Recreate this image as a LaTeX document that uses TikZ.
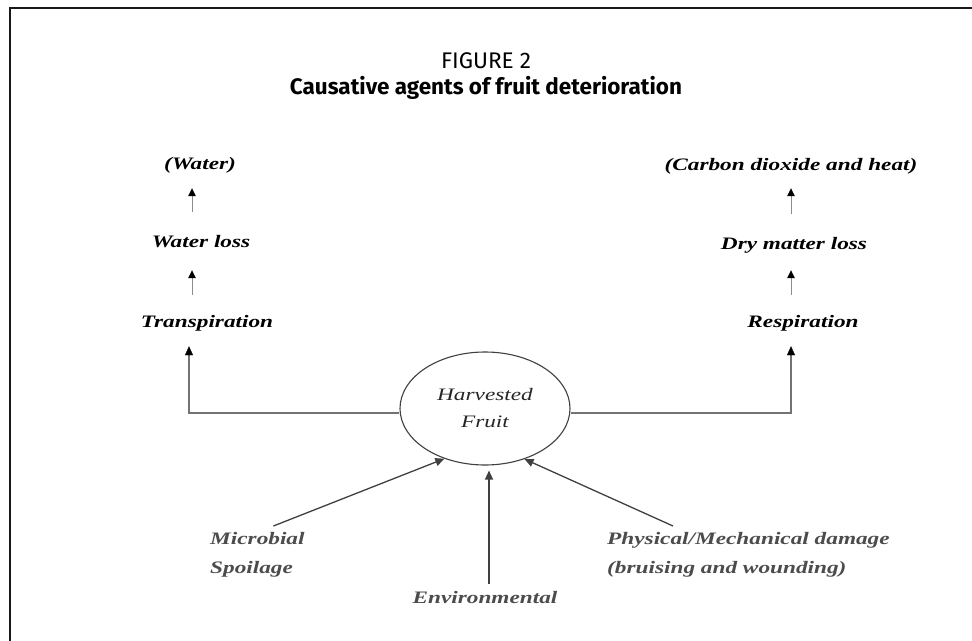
\documentclass[tikz,border=0pt]{standalone}
\usepackage{fontspec}
\setmainfont{Liberation Serif}
\newfontfamily\dfont[FakeStretch=1.33]{Liberation Serif}
\newfontfamily\tfont{Fira Sans}
\usetikzlibrary{shapes.geometric,arrows.meta}
\begin{document}
\begin{tikzpicture}[x=1pt,y=-1pt,
  lbl/.style={inner sep=0pt,text height=12pt,text depth=4pt,font=\dfont\fontsize{17.5}{20}\selectfont\bfseries\itshape},
  blbl/.style={inner sep=0pt,align=left,font=\dfont\fontsize{17.5}{29}\selectfont\bfseries\itshape,text=black!70},
  sarr/.style={draw=black!45,line width=0.9pt,-{Triangle[width=7.5pt,length=8pt,color=black]}},
  conn/.style={draw=black!55,line width=2.4pt,-{Triangle[width=8pt,length=9pt,color=black,line width=0.4pt]}},
  barr/.style={draw=black!75,line width=1.3pt,-{Triangle[width=8pt,length=9pt]}}]
\useasboundingbox (0,0) rectangle (972,640);
\fill[white] (0,0) rectangle (972,640);
\draw[black!90,line width=2.5pt] (10,645) -- (10,8) -- (980,8);
% title
\node[inner sep=0pt,font=\tfont] (t1) at (486,61) {\resizebox{90pt}{!}{FIGURE 2}};
\node[inner sep=0pt,font=\tfont\bfseries] (t2) at (486,88) {\resizebox{392pt}{!}{Causative agents of fruit deterioration}};
% left column
\node[lbl] (wa) at (200,165) {(Water)};
\node[lbl] (wl) at (201,243) {Water loss};
\node[lbl] (tr) at (207,323) {Transpiration};
% right column
\node[lbl] (co) at (791,166) {(Carbon dioxide and heat)};
\node[lbl] (dm) at (794,245) {Dry matter loss};
\node[lbl] (re) at (803,323) {Respiration};
% centre
\node[ellipse,draw=black!75,line width=1.1pt,minimum width=170pt,minimum height=113pt,inner sep=0pt,
  align=center,font=\dfont\fontsize{17.5}{27}\selectfont\itshape,text=black!85] (hf) at (485,408.5) {Harvested\\Fruit};
% bottom labels
\node[blbl,anchor=north west] (ms) at (210,532) {Microbial\\Spoilage};
\node[blbl,anchor=center] (en) at (485,598) {Environmental};
\node[blbl,anchor=north west] (pd) at (607,532) {Physical/Mechanical damage\\(bruising and wounding)};
% helper x positions
\coordinate (lx) at (192,0);
\coordinate (lcx) at (189,0);
\coordinate (rx) at (791,0);
\coordinate (mx) at (489,0);
% short arrows
\draw[sarr,shorten <=23pt,shorten >=15pt] (wl.north -| lx) -- (wa.south -| lx);
\draw[sarr,shorten <=20pt,shorten >=19pt] (tr.north -| lx) -- (wl.south -| lx);
\draw[sarr,shorten <=23pt,shorten >=14pt] (dm.north -| rx) -- (co.south -| rx);
\draw[sarr,shorten <=20pt,shorten >=17pt] (re.north -| rx) -- (dm.south -| rx);
% main connectors
\draw[conn,shorten >=15pt] ([yshift=-4.5pt]hf.west) -| (tr.south -| lcx);
\draw[conn,shorten >=15pt] ([yshift=-4.5pt]hf.east) -| (re.south -| rx);
% bottom arrows
\draw[barr] ([xshift=16pt,yshift=6pt]ms.north) -- (hf.231);
\draw[barr,shorten <=8pt,shorten >=5pt] (en.north -| mx) -- (hf.south -| mx);
\draw[barr] ([xshift=66pt,yshift=6pt]pd.north west) -- (hf.308);
\end{tikzpicture}
\end{document}
